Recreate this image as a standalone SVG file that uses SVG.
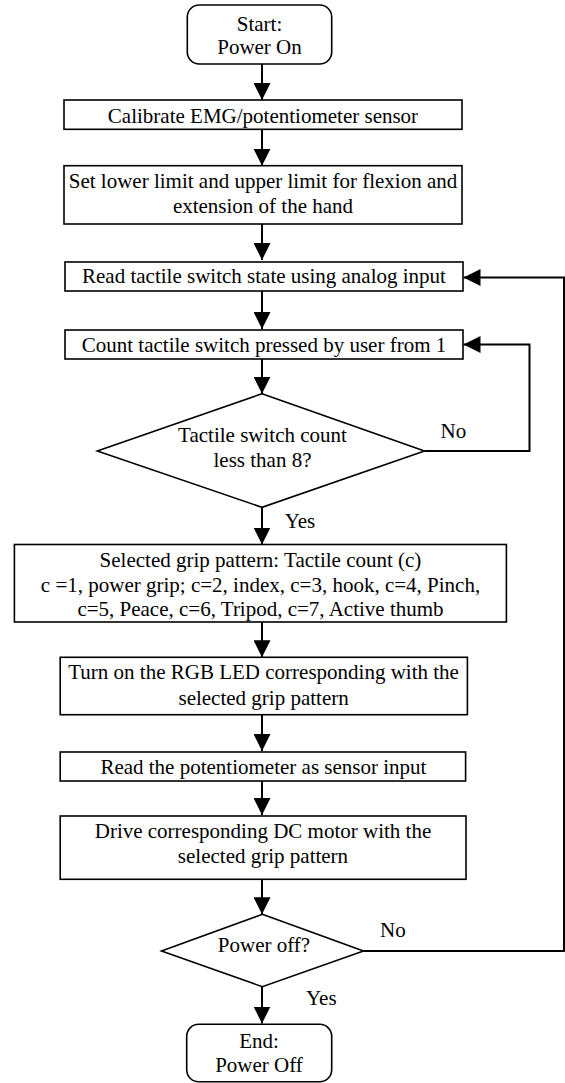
<svg xmlns="http://www.w3.org/2000/svg" width="565" height="1083" viewBox="0 0 565 1083">
<style>
  .box { fill: #ffffff; stroke: #000000; stroke-width: 1.6; }
  .conn { fill: none; stroke: #000000; stroke-width: 2; }
  .t { font-family: 'Liberation Serif', 'Times New Roman', Tinos, 'DejaVu Serif', serif; font-size: 21px; fill: #000000; text-anchor: middle; }
  .lbl { text-anchor: start; }
</style>
<defs>
  <marker id="arrow" markerUnits="userSpaceOnUse" markerWidth="17" markerHeight="17" refX="17" refY="8.5" orient="auto">
    <path d="M0,0 L17,8.5 L0,17 z" fill="#000000"/>
  </marker>
</defs>
<rect width="565" height="1083" fill="#ffffff"/>
<g id="connectors" font-family="Liberation Serif, serif">
  <line class="conn" x1="262" y1="64" x2="262" y2="100" marker-end="url(#arrow)"/>
  <line class="conn" x1="262" y1="129.3" x2="262" y2="165.7" marker-end="url(#arrow)"/>
  <line class="conn" x1="262" y1="224" x2="262" y2="260" marker-end="url(#arrow)"/>
  <line class="conn" x1="262" y1="291" x2="262" y2="329" marker-end="url(#arrow)"/>
  <line class="conn" x1="262" y1="359" x2="262" y2="393.7" marker-end="url(#arrow)"/>
  <polyline class="conn" points="424.5,451 529.5,451 529.5,344.5 463.5,344.5" marker-end="url(#arrow)"/>
  <line class="conn" x1="262" y1="507.3" x2="262" y2="544.5" marker-end="url(#arrow)"/>
  <line class="conn" x1="262" y1="622" x2="262" y2="657.3" marker-end="url(#arrow)"/>
  <line class="conn" x1="262" y1="714.7" x2="262" y2="751" marker-end="url(#arrow)"/>
  <line class="conn" x1="262" y1="781" x2="262" y2="815" marker-end="url(#arrow)"/>
  <line class="conn" x1="262" y1="879.3" x2="262" y2="914.3" marker-end="url(#arrow)"/>
  <polyline class="conn" points="363.5,951 564,951 564,277.5 463.5,277.5" marker-end="url(#arrow)"/>
  <line class="conn" x1="262" y1="986.7" x2="262" y2="1023.5" marker-end="url(#arrow)"/>
  <text class="t lbl" x="440.5" y="437.7">No</text>
  <text class="t lbl" x="284.7" y="528.3">Yes</text>
  <text class="t lbl" x="380" y="936.7">No</text>
  <text class="t lbl" x="306" y="1005">Yes</text>
</g>
<g id="start">
  <rect class="box" x="187.3" y="5" width="144.4" height="59" rx="12" ry="12"/>
  <text class="t" x="259.5" y="30.5">Start:</text>
  <text class="t" x="259.5" y="53.5">Power On</text>
</g>
<g id="calibrate">
  <rect class="box" x="64" y="100" width="398" height="29.3"/>
  <text class="t" x="263" y="122.5">Calibrate EMG/potentiometer sensor</text>
</g>
<g id="set-limits">
  <rect class="box" x="64" y="165.7" width="398" height="58.3"/>
  <text class="t" x="263" y="188.3">Set lower limit and upper limit for flexion and</text>
  <text class="t" x="263" y="213.3">extension of the hand</text>
</g>
<g id="read-switch">
  <rect class="box" x="65" y="262" width="398" height="29"/>
  <text class="t" x="264" y="283">Read tactile switch state using analog input</text>
</g>
<g id="count-switch">
  <rect class="box" x="65" y="330" width="398" height="29"/>
  <text class="t" x="264" y="351.7">Count tactile switch pressed by user from 1</text>
</g>
<g id="decision-count">
  <polygon class="box" points="262,393.7 424.5,451 262,507.3 97.3,451"/>
  <text class="t" x="262.5" y="441.7">Tactile switch count</text>
  <text class="t" x="262.5" y="467.3">less than 8?</text>
</g>
<g id="grip-pattern">
  <rect class="box" x="14.4" y="544.5" width="492" height="77.5"/>
  <text class="t" x="260.5" y="566.7">Selected grip pattern: Tactile count (c)</text>
  <text class="t" x="260.5" y="591.7">c =1, power grip; c=2, index, c=3, hook, c=4, Pinch,</text>
  <text class="t" x="260.5" y="616">c=5, Peace, c=6, Tripod, c=7, Active thumb</text>
</g>
<g id="rgb-led">
  <rect class="box" x="60.2" y="657.3" width="407.2" height="57.4"/>
  <text class="t" x="263.6" y="679.3">Turn on the RGB LED corresponding with the</text>
  <text class="t" x="263.6" y="705">selected grip pattern</text>
</g>
<g id="read-pot">
  <rect class="box" x="60.2" y="752" width="405.4" height="29"/>
  <text class="t" x="263.4" y="774.3">Read the potentiometer as sensor input</text>
</g>
<g id="drive-motor">
  <rect class="box" x="60.2" y="816" width="405.8" height="63.3"/>
  <text class="t" x="263" y="838.3">Drive corresponding DC motor with the</text>
  <text class="t" x="263" y="863.3">selected grip pattern</text>
</g>
<g id="decision-power">
  <polygon class="box" points="262.3,914.3 363.5,951 262.3,986.7 161.5,951"/>
  <text class="t" x="264" y="952">Power off?</text>
</g>
<g id="end">
  <rect class="box" x="186.7" y="1024.3" width="145" height="57.5" rx="12" ry="12"/>
  <text class="t" x="259" y="1048.3">End:</text>
  <text class="t" x="259" y="1071.7">Power Off</text>
</g>
</svg>
